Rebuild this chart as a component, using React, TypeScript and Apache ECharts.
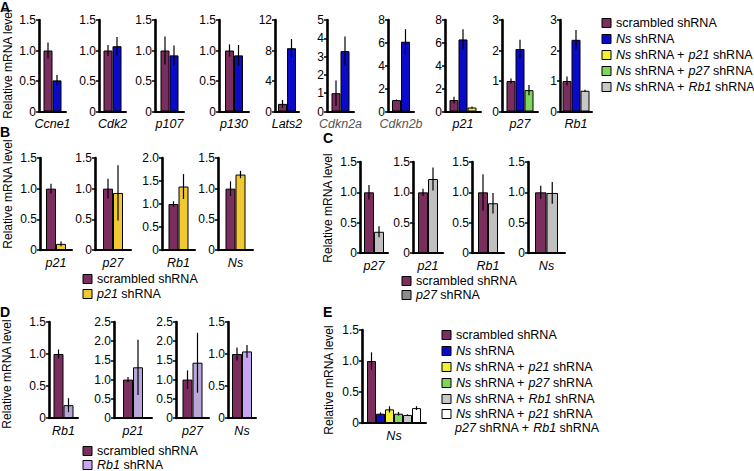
import { useEffect, useRef } from 'react';
import * as echarts from 'echarts';

const FONT = '"Liberation Sans", Arial, Helvetica, sans-serif';

// ---------- Panel A ----------
const aGenes = ['Ccne1', 'Cdk2', 'p107', 'p130', 'Lats2', 'Cdkn2a', 'Cdkn2b', 'p21', 'p27', 'Rb1'];
const aMax = [1.5, 1.5, 1.5, 1.5, 12, 5, 8, 8, 3, 3];
const aStep = [0.5, 0.5, 0.5, 0.5, 4, 1, 2, 2, 1, 1];
const aScr = [1, 1, 1, 1, 1, 1, 1, 1, 1, 1];
const aScrErr = [0.13, 0.09, 0.23, 0.1, 0.5, 0.7, 0.05, 0.3, 0.08, 0.15];
const aNs = [0.51, 1.07, 0.92, 0.92, 8.3, 3.3, 6.1, 6.3, 2.05, 2.35];
const aNsErr = [0.09, 0.15, 0.16, 0.17, 1.2, 0.8, 1.1, 0.9, 0.3, 0.32];
const aNsP21 = [null, null, null, null, null, null, null, 0.35, null, null];
const aNsP21Err = [null, null, null, null, null, null, null, 0.08, null, null];
const aNsP27 = [null, null, null, null, null, null, null, null, 0.7, null];
const aNsP27Err = [null, null, null, null, null, null, null, null, 0.17, null];
const aNsRb1 = [null, null, null, null, null, null, null, null, null, 0.68];
const aNsRb1Err = [null, null, null, null, null, null, null, null, null, 0.03];

// ---------- Panel B ----------
const bGenes = ['p21', 'p27', 'Rb1', 'Ns'];
const bMax = [1.5, 1.5, 2.0, 1.5];
const bScr = [1, 1, 1, 1];
const bScrErr = [0.08, 0.16, 0.06, 0.12];
const bP21 = [0.1, 0.93, 1.38, 1.23];
const bP21Err = [0.04, 0.45, 0.27, 0.06];

// ---------- Panel C ----------
const cGenes = ['p27', 'p21', 'Rb1', 'Ns'];
const cMax = [1.5, 1.5, 1.5, 1.5];
const cScr = [1, 1, 1, 1];
const cScrErr = [0.12, 0.06, 0.3, 0.11];
const cP27 = [0.35, 1.22, 0.82, 0.99];
const cP27Err = [0.09, 0.19, 0.17, 0.18];

// ---------- Panel D ----------
const dGenes = ['Rb1', 'p21', 'p27', 'Ns'];
const dMax = [1.5, 2.5, 2.5, 1.5];
const dScr = [1, 1, 1, 1];
const dScrErr = [0.07, 0.07, 0.24, 0.1];
const dRb1 = [0.2, 1.32, 1.44, 1.04];
const dRb1Err = [0.11, 0.72, 0.78, 0.1];

// ---------- Panel E ----------
const eGene = 'Ns';
const eValues = [1.0, 0.15, 0.22, 0.15, 0.13, 0.24];
const eErrs = [0.14, 0.02, 0.05, 0.03, 0.01, 0.03];

// ---------- colours ----------
const C_SCR = '#7B2D5E';
const C_NS = '#0A0AC8';
const C_NSP21 = '#F2EE3A';
const C_NSP27 = '#7FD65A';
const C_NSRB1 = '#C8C8C8';
const C_P21 = '#F0C832';
const C_P27 = '#C0C0C0';
const C_P27_LEG = '#8C8C8C';
const C_RB1 = '#B9A6D9';
const C_RB1_NS = '#C8A6F6';
const C_ALL = '#FFFFFF';

type BarSpec = { v: number | null; e: number | null; color: string };
type PlotSpec = {
  left: number; top: number; width: number; height: number;
  gene: string; max: number; step: number; barWidth: number;
  bars: BarSpec[]; labelColor?: string;
};

function fmt(step: number) {
  return (v: number) => (step < 1 ? (v === 0 ? '0' : v.toFixed(1)) : String(v));
}

function buildPlots(specs: PlotSpec[]) {
  const grid: any[] = [];
  const xAxis: any[] = [];
  const yAxis: any[] = [];
  const series: any[] = [];
  specs.forEach((s, gi) => {
    grid.push({ left: s.left, top: s.top, width: s.width, height: s.height, containLabel: false });
    xAxis.push({
      type: 'category', gridIndex: gi, data: [s.gene], boundaryGap: true,
      axisLine: { show: true, lineStyle: { color: '#000', width: 2 } },
      axisTick: { show: false },
      axisLabel: { fontStyle: 'italic', fontSize: 12.5, color: s.labelColor || '#000', fontFamily: FONT, margin: 6, interval: 0 },
    });
    yAxis.push({
      type: 'value', gridIndex: gi, min: 0, max: s.max, interval: s.step,
      axisLine: { show: true, lineStyle: { color: '#000', width: 2.6 } },
      axisTick: { show: true, length: 3, lineStyle: { color: '#000', width: 1.5 } },
      splitLine: { show: false },
      axisLabel: { fontSize: 12, color: '#000', fontFamily: FONT, margin: 3, formatter: fmt(s.step) },
    });
    const present = s.bars.filter((b) => b.v != null);
    const n = present.length;
    present.forEach((b) => {
      series.push({
        type: 'bar', xAxisIndex: gi, yAxisIndex: gi, data: [b.v],
        barWidth: s.barWidth, barGap: '0%', silent: true,
        itemStyle: { color: b.color, borderColor: '#000', borderWidth: 1 },
      });
    });
    const bw = s.barWidth;
    series.push({
      type: 'custom', xAxisIndex: gi, yAxisIndex: gi, z: 5, silent: true,
      data: present.map((b, i) => [0, b.v, b.e || 0, i]),
      renderItem: (_p: any, api: any) => {
        const v = api.value(1);
        const e = api.value(2);
        const i = api.value(3);
        const c = api.coord([0, v]);
        const x = c[0] + (i - (n - 1) / 2) * bw;
        const y1 = api.coord([0, v + e])[1];
        const y2 = api.coord([0, Math.max(0, v - e)])[1];
        return { type: 'line', shape: { x1: x, y1, x2: x, y2 }, style: { stroke: '#000', lineWidth: 1.2 } };
      },
    });
  });
  return { grid, xAxis, yAxis, series };
}

function legendItems(x: number, rows: number[], colors: string[], labels: string[]) {
  const els: any[] = [];
  rows.forEach((y, i) => {
    els.push({ type: 'rect', shape: { x: x, y: y - 4.5, width: 9, height: 9 }, style: { fill: colors[i], stroke: '#000', lineWidth: 1 } });
    els.push({
      type: 'text', x: x + 14, y: y,
      style: {
        text: labels[i], fontSize: 12.5, fontFamily: FONT, fill: '#000', textVerticalAlign: 'middle', textAlign: 'left',
        rich: { i: { fontStyle: 'italic', fontSize: 12.5, fontFamily: FONT, fill: '#000' } },
      },
    });
  });
  return els;
}

function yLabel(x: number, y: number) {
  return {
    type: 'text', x, y, rotation: Math.PI / 2,
    style: { text: 'Relative mRNA level', fontSize: 12, fontFamily: FONT, fill: '#000', textAlign: 'center', textVerticalAlign: 'middle' },
  };
}

function letter(t: string, x: number, y: number) {
  return { type: 'text', x, y, style: { text: t, fontSize: 14, fontWeight: 'bold', fontFamily: FONT, fill: '#000', textAlign: 'left', textVerticalAlign: 'top' } };
}

export default function App() {
  const ref = useRef<HTMLDivElement>(null);
  useEffect(() => {
    if (!ref.current) return;
    const chart = echarts.init(ref.current, undefined, { renderer: 'svg' });

    const specs: PlotSpec[] = [];
    // Panel A layout
    const aLeft = [39, 99, 155, 219, 275, 327, 388, 445, 502, 560];
    const aWidth = [27, 27, 29, 30, 24, 27, 26, 36, 36, 32];
    aGenes.forEach((g, i) => {
      const bars: BarSpec[] = [
        { v: aScr[i], e: aScrErr[i], color: C_SCR },
        { v: aNs[i], e: aNsErr[i], color: C_NS },
        { v: aNsP21[i], e: aNsP21Err[i], color: C_NSP21 },
        { v: aNsP27[i], e: aNsP27Err[i], color: C_NSP27 },
        { v: aNsRb1[i], e: aNsRb1Err[i], color: C_NSRB1 },
      ];
      specs.push({
        left: aLeft[i], top: 20, width: aWidth[i], height: 91.5, gene: g, max: aMax[i], step: aStep[i],
        barWidth: 9, bars, labelColor: g.startsWith('Cdkn') ? '#555' : '#000',
      });
    });
    // Panel B
    const bLeft = [40, 95, 162, 218];
    const bWidth = [32, 36, 33, 35];
    bGenes.forEach((g, i) => {
      specs.push({
        left: bLeft[i], top: 158, width: bWidth[i], height: 92, gene: g, max: bMax[i], step: 0.5, barWidth: 10,
        bars: [{ v: bScr[i], e: bScrErr[i], color: C_SCR }, { v: bP21[i], e: bP21Err[i], color: C_P21 }],
      });
    });
    // Panel C
    const cLeft = [360, 413, 472, 528];
    const cWidth = [28, 30, 32, 37];
    const cBw = [10, 10, 10, 11.5];
    cGenes.forEach((g, i) => {
      specs.push({
        left: cLeft[i], top: 162, width: cWidth[i], height: 91, gene: g, max: cMax[i], step: 0.5, barWidth: cBw[i],
        bars: [{ v: cScr[i], e: cScrErr[i], color: C_SCR }, { v: cP27[i], e: cP27Err[i], color: C_P27 }],
      });
    });
    // Panel D
    const dLeft = [49, 114, 176, 228];
    const dWidth = [29, 38, 33, 28];
    dGenes.forEach((g, i) => {
      specs.push({
        left: dLeft[i], top: 322, width: dWidth[i], height: 96, gene: g, max: dMax[i], step: 0.5, barWidth: 10,
        bars: [{ v: dScr[i], e: dScrErr[i], color: C_SCR }, { v: dRb1[i], e: dRb1Err[i], color: g === 'Ns' ? C_RB1_NS : C_RB1 }],
      });
    });
    // Panel E
    const eColors = [C_SCR, C_NS, C_NSP21, C_NSP27, C_NSRB1, C_ALL];
    specs.push({
      left: 362, top: 330, width: 64, height: 93, gene: eGene, max: 1.5, step: 0.5, barWidth: 9,
      bars: eValues.map((v, i) => ({ v, e: eErrs[i], color: eColors[i] })),
    });

    const { grid, xAxis, yAxis, series } = buildPlots(specs);

    const aLabels = [
      'scrambled shRNA',
      '{i|Ns} shRNA',
      '{i|Ns} shRNA + {i|p21} shRNA',
      '{i|Ns} shRNA + {i|p27} shRNA',
      '{i|Ns} shRNA + {i|Rb1} shRNA',
    ];
    const graphic: any[] = [
      letter('A', 0, 0), letter('B', 0, 125), letter('C', 323, 131), letter('D', 0, 305), letter('E', 323, 305),
      yLabel(8, 64), yLabel(8, 194), yLabel(328, 208), yLabel(7, 374), yLabel(329, 380),
      ...legendItems(602, [23, 39, 55, 71, 87], [C_SCR, C_NS, C_NSP21, C_NSP27, C_NSRB1], aLabels),
      ...legendItems(83, [279, 294], [C_SCR, C_P21], ['scrambled shRNA', '{i|p21} shRNA']),
      ...legendItems(402, [281, 295], [C_SCR, C_P27_LEG], ['scrambled shRNA', '{i|p27} shRNA']),
      ...legendItems(83, [451, 465], [C_SCR, C_RB1_NS], ['scrambled shRNA', '{i|Rb1} shRNA']),
      ...legendItems(442, [335, 351, 367, 383, 399, 414], eColors, [...aLabels, '{i|Ns} shRNA + {i|p21} shRNA']),
      {
        type: 'text', x: 455, y: 428,
        style: {
          text: '{i|p27} shRNA + {i|Rb1} shRNA', fontSize: 12.5, fontFamily: FONT, fill: '#000', textVerticalAlign: 'middle',
          rich: { i: { fontStyle: 'italic', fontSize: 12.5, fontFamily: FONT, fill: '#000' } },
        },
      },
    ];

    chart.setOption({
      animation: false,
      backgroundColor: '#fff',
      grid, xAxis, yAxis, series, graphic,
    });
    return () => chart.dispose();
  }, []);
  return <div ref={ref} style={{ position: 'fixed', left: 0, top: 0, width: 754, height: 471, background: '#fff' }} />;
}
